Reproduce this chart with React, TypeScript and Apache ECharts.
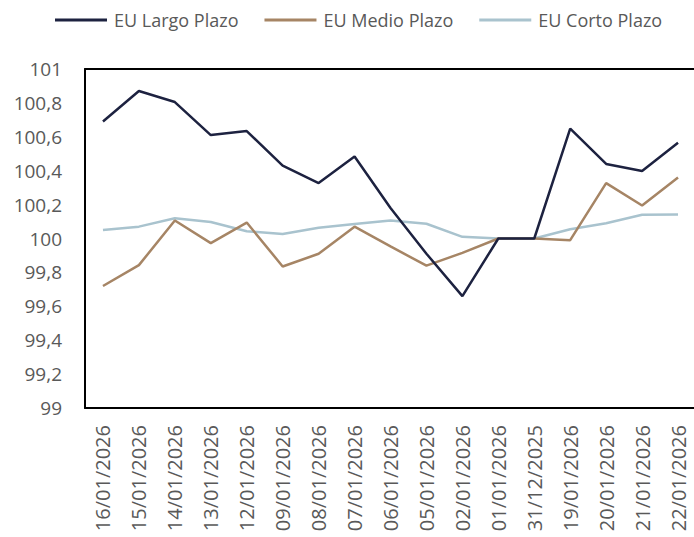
import React, { useEffect, useRef } from "react";
import * as echarts from "echarts";

const categories = [
  "16/01/2026", "15/01/2026", "14/01/2026", "13/01/2026", "12/01/2026",
  "09/01/2026", "08/01/2026", "07/01/2026", "06/01/2026", "05/01/2026",
  "02/01/2026", "01/01/2026", "31/12/2025", "19/01/2026", "20/01/2026",
  "21/01/2026", "22/01/2026",
];

const largoPlazo = [
  100.69, 100.87, 100.805, 100.61, 100.634, 100.43, 100.327, 100.484, 100.18,
  99.91, 99.66, 100.0, 100.0, 100.648, 100.44, 100.398, 100.565,
];

const medioPlazo = [
  99.72, 99.843, 100.106, 99.973, 100.094, 99.835, 99.91, 100.07, 99.953,
  99.84, 99.915, 100.0, 100.0, 99.99, 100.327, 100.195, 100.36,
];

const cortoPlazo = [
  100.05, 100.07, 100.12, 100.097, 100.043, 100.026, 100.063, 100.085, 100.106,
  100.087, 100.01, 100.0, 100.0, 100.055, 100.09, 100.14, 100.142,
];

const seriesNames = ["EU Largo Plazo", "EU Medio Plazo", "EU Corto Plazo"];
const seriesColors = ["#1d2240", "#a68565", "#a9c3ce"];

export default function App() {
  const ref = useRef<HTMLDivElement>(null);

  useEffect(() => {
    if (!ref.current) return;
    const chart = echarts.init(ref.current, undefined, { renderer: "svg" });
    const font = "'Open Sans', sans-serif";
    const dataSets = [largoPlazo, medioPlazo, cortoPlazo];
    const borderLine = { show: true, onZero: false, lineStyle: { color: "#000000", width: 2 } };
    chart.setOption({
      animation: false,
      backgroundColor: "#ffffff",
      textStyle: { fontFamily: font },
      legend: {
        top: 6,
        left: 50,
        itemWidth: 52,
        itemHeight: 3,
        itemGap: 26,
        icon: "rect",
        textStyle: { fontSize: 18, color: "#595959", fontFamily: font, padding: [0, 0, 0, 2] },
        data: seriesNames,
      },
      grid: {
        left: 85,
        top: 69,
        width: 611,
        height: 339,
        containLabel: false,
        outerBoundsMode: "none",
        show: false,
      },
      xAxis: [
        {
          type: "category",
          data: categories,
          position: "bottom",
          boundaryGap: true,
          axisLine: borderLine,
          axisTick: { show: false },
          axisLabel: {
            rotate: 90,
            interval: 0,
            margin: 17,
            fontSize: 20,
            color: "#595959",
            fontFamily: font,
          },
          splitLine: { show: false },
        },
        {
          type: "category",
          data: categories,
          position: "top",
          boundaryGap: true,
          axisLine: borderLine,
          axisTick: { show: false },
          axisLabel: { show: false },
          splitLine: { show: false },
        },
      ],
      yAxis: {
        type: "value",
        min: 99,
        max: 101,
        interval: 0.2,
        axisLine: borderLine,
        axisTick: { show: false },
        splitLine: { show: false },
        axisLabel: {
          margin: 23,
          fontSize: 19,
          color: "#595959",
          fontFamily: font,
          formatter: (v: number) => String(Math.round(v * 10) / 10).replace(".", ","),
        },
      },
      series: seriesNames.map((name, i) => ({
        name,
        type: "line",
        xAxisIndex: 0,
        data: dataSets[i],
        showSymbol: false,
        symbol: "none",
        lineStyle: { color: seriesColors[i], width: 2.5 },
        itemStyle: { color: seriesColors[i] },
        z: 3 - i,
      })),
    });
    return () => chart.dispose();
  }, []);

  return (
    <div
      style={{
        position: "fixed",
        left: 0,
        top: 0,
        width: 694,
        height: 537,
        overflow: "hidden",
        background: "#ffffff",
      }}
    >
      <div ref={ref} style={{ width: 720, height: 537 }} />
    </div>
  );
}
